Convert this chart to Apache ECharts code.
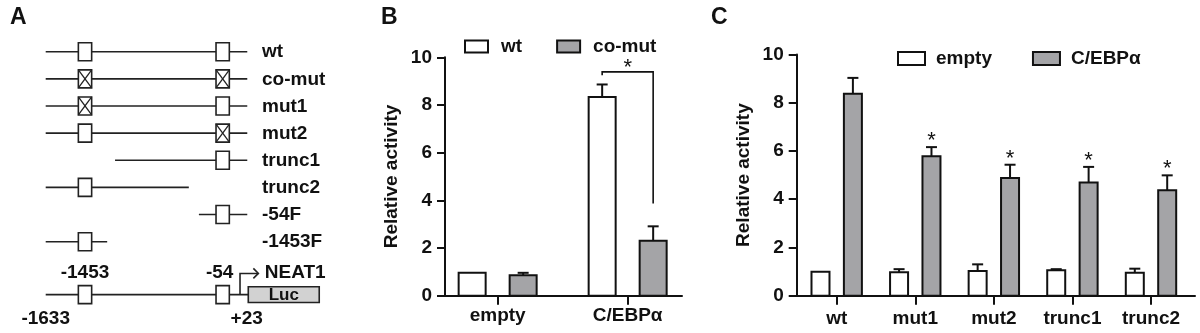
<!DOCTYPE html>
<html>
<head>
<meta charset="utf-8">
<script src="https://cdn.jsdelivr.net/npm/echarts@6/dist/echarts.min.js"></script>
<style>
html,body{margin:0;padding:0;background:#fff;}
#chart{width:1200px;height:333px;}
</style>
</head>
<body>
<div id="chart"></div>
<script>
// ---------- Panel A data (schematic units) ----------
const constructs = ['wt', 'co-mut', 'mut1', 'mut2', 'trunc1', 'trunc2', '-54F', '-1453F'];
const fragStart = [0, 0, 0, 0, 3.44, 0, 7.6, 0];
const fragEnd = [10, 10, 10, 10, 10, 7.1, 10, 3.05];
// 0 = absent, 1 = intact, 2 = mutated
const siteUpstream = [1, 2, 2, 1, 0, 1, 0, 1];
const siteProximal = [1, 2, 1, 2, 1, 0, 1, 0];
const sitePositions = [1.95, 8.78];
const siteNames = ['-1453', '-54'];
const reporterEnds = ['-1633', '+23'];
const reporterGene = 'NEAT1';
const reporterBox = 'Luc';

// ---------- Panel B data ----------
const catsB = ['empty', 'C/EBPα'];
const wtB = [0.96, 8.33];
const wtErrB = [0, 0.53];
const comutB = [0.86, 2.30];
const comutErrB = [0.10, 0.61];
const sigB = [{ cat: 1, top: 9.39, leftEnd: 9.25, rightEnd: 3.87 }];

// ---------- Panel C data ----------
const catsC = ['wt', 'mut1', 'mut2', 'trunc1', 'trunc2'];
const emptyC = [0.99, 0.97, 1.02, 1.05, 0.95];
const emptyErrC = [0, 0.13, 0.28, 0.05, 0.17];
const cebpC = [8.37, 5.78, 4.88, 4.69, 4.37];
const cebpErrC = [0.66, 0.38, 0.55, 0.65, 0.62];
const sigC = [0, 1, 1, 1, 1];

const yTicks = [0, 2, 4, 6, 8, 10];

// ---------- styling ----------
const FONT = '"Liberation Sans", Arial, Helvetica, sans-serif';
const INK = '#111';
const GRAY = '#a4a4a7';
const FS = 19;

const chart = echarts.init(document.getElementById('chart'), null, { renderer: 'canvas' });

function boxShape(c, status) {
  const w = 13.3, h = 18;
  const kids = [{
    type: 'rect',
    shape: { x: c[0] - w / 2, y: c[1] - h / 2, width: w, height: h },
    style: { fill: '#fff', stroke: '#222', lineWidth: 1.6 }
  }];
  if (status === 2) {
    kids.push({ type: 'line', shape: { x1: c[0] - w / 2, y1: c[1] - h / 2, x2: c[0] + w / 2, y2: c[1] + h / 2 }, style: { stroke: '#222', lineWidth: 1.3 } });
    kids.push({ type: 'line', shape: { x1: c[0] + w / 2, y1: c[1] - h / 2, x2: c[0] - w / 2, y2: c[1] + h / 2 }, style: { stroke: '#222', lineWidth: 1.3 } });
  }
  return kids;
}

const txt = (x, y, text, size, align, weight) => ({
  type: 'text', x: x, y: y,
  style: { text: text, fill: INK, font: (weight || 'bold') + ' ' + size + 'px ' + FONT, align: align || 'center', verticalAlign: 'middle' }
});

const fragData = constructs.map((c, i) => [fragStart[i], fragEnd[i], i]);
const siteData = [];
constructs.forEach((c, i) => {
  if (siteUpstream[i]) siteData.push([sitePositions[0], i, siteUpstream[i]]);
  if (siteProximal[i]) siteData.push([sitePositions[1], i, siteProximal[i]]);
});

const LABEL_X = 10.73;

function barRenderer(offset, width, fill, withStars) {
  return function (params, api) {
    const x = api.value(0), v = api.value(1), e = api.value(2), s = api.value(3);
    const base = api.coord([x, 0]);
    const top = api.coord([x, v]);
    const et = api.coord([x, v + e]);
    const cx = base[0] + offset;
    const kids = [{
      type: 'rect',
      shape: { x: cx - width / 2, y: top[1], width: width, height: base[1] - top[1] },
      style: { fill: fill, stroke: INK, lineWidth: 2 }
    }];
    if (e > 0) {
      kids.push({ type: 'line', shape: { x1: cx, y1: top[1], x2: cx, y2: et[1] }, style: { stroke: INK, lineWidth: 2 } });
      kids.push({ type: 'line', shape: { x1: cx - 5.5, y1: et[1], x2: cx + 5.5, y2: et[1] }, style: { stroke: INK, lineWidth: 2 } });
    }
    if (withStars && s) {
      kids.push({ type: 'text', x: cx, y: et[1] - 6, style: { text: '*', fill: INK, font: '22px ' + FONT, align: 'center', verticalAlign: 'middle' } });
    }
    return { type: 'group', children: kids };
  };
}

const axisLabelStyle = { fontSize: FS, fontWeight: 'bold', color: INK, fontFamily: FONT };

function catXAxis(gridIndex, min, max, cats, margin) {
  const vals = cats.map((c, i) => i);
  return {
    gridIndex: gridIndex, type: 'value', min: min, max: max,
    axisLine: { show: true, onZero: false, lineStyle: { color: INK, width: 2 } },
    axisTick: { show: true, customValues: vals, length: 9, lineStyle: { color: INK, width: 2 } },
    axisLabel: { show: true, customValues: vals, margin: margin, formatter: v => cats[Math.round(v)], ...axisLabelStyle },
    splitLine: { show: false }
  };
}
function activityYAxis(gridIndex, gap) {
  return {
    gridIndex: gridIndex, type: 'value', min: yTicks[0], max: yTicks[yTicks.length - 1], interval: yTicks[1] - yTicks[0],
    axisLine: { show: true, onZero: false, lineStyle: { color: INK, width: 2 } },
    axisTick: { show: true, length: 8, lineStyle: { color: INK, width: 2 } },
    axisLabel: { show: true, margin: 13, ...axisLabelStyle },
    splitLine: { show: false },
    name: 'Relative activity', nameLocation: 'middle', nameRotate: 90, nameGap: gap,
    nameTextStyle: { fontSize: FS, fontWeight: 'bold', color: INK, fontFamily: FONT }
  };
}

const option = {
  animation: false,
  backgroundColor: '#fff',
  title: [
    { text: 'A', left: 5, top: 1, textStyle: { fontSize: 23, fontWeight: 'bold', color: INK, fontFamily: FONT } },
    { text: 'B', left: 376, top: 1, textStyle: { fontSize: 23, fontWeight: 'bold', color: INK, fontFamily: FONT } },
    { text: 'C', left: 706, top: 1, textStyle: { fontSize: 23, fontWeight: 'bold', color: INK, fontFamily: FONT } }
  ],
  legend: [
    {
      left: 459, top: 32, itemWidth: 23, itemHeight: 12, itemGap: 34, icon: 'rect',
      data: [
        { name: 'wt', itemStyle: { color: '#fff', borderColor: INK, borderWidth: 2 } },
        { name: 'co-mut', itemStyle: { color: GRAY, borderColor: INK, borderWidth: 2 } }
      ],
      textStyle: { ...axisLabelStyle, padding: [0, 0, 0, 8] }
    },
    {
      left: 892, top: 44, itemWidth: 27, itemHeight: 13, itemGap: 40, icon: 'rect',
      data: [
        { name: 'empty', itemStyle: { color: '#fff', borderColor: INK, borderWidth: 2 } },
        { name: 'C/EBPα', itemStyle: { color: GRAY, borderColor: INK, borderWidth: 2 } }
      ],
      textStyle: { ...axisLabelStyle, padding: [0, 0, 0, 6] }
    }
  ],
  grid: [
    { left: 45.7, top: 51.7, width: 282.2, height: 271.4, outerBoundsMode: 'none' },
    { left: 445, top: 57.3, width: 237, height: 238.4, outerBoundsMode: 'none' },
    { left: 796.7, top: 54.5, width: 398.3, height: 241.2, outerBoundsMode: 'none' }
  ],
  xAxis: [
    { gridIndex: 0, type: 'value', min: 0, max: 14, show: false },
    catXAxis(1, -0.405, 1.418, catsB, 11),
    catXAxis(2, -0.509, 4.56, catsC, 14)
  ],
  yAxis: [
    { gridIndex: 0, type: 'value', min: 0, max: 10, inverse: true, show: false },
    activityYAxis(1, 44),
    activityYAxis(2, 43)
  ],
  series: [
    // ----- Panel A -----
    {
      type: 'custom', name: 'fragments', xAxisIndex: 0, yAxisIndex: 0, clip: false,
      data: fragData,
      renderItem: (p, api) => {
        const a = api.coord([api.value(0), api.value(2)]);
        const b = api.coord([api.value(1), api.value(2)]);
        return { type: 'line', shape: { x1: a[0], y1: a[1], x2: b[0], y2: b[1] }, style: { stroke: '#222', lineWidth: 1.6 } };
      }
    },
    {
      type: 'custom', name: 'sites', xAxisIndex: 0, yAxisIndex: 0, clip: false,
      data: siteData,
      renderItem: (p, api) => {
        const c = api.coord([api.value(0), api.value(1)]);
        return { type: 'group', children: boxShape(c, api.value(2)) };
      }
    },
    {
      type: 'custom', name: 'constructLabels', xAxisIndex: 0, yAxisIndex: 0, clip: false,
      data: constructs.map((c, i) => [LABEL_X, i]),
      renderItem: (p, api) => {
        const c = api.coord([api.value(0), api.value(1)]);
        return txt(c[0], c[1] + 0.5, constructs[p.dataIndex], FS, 'left');
      }
    },
    {
      type: 'custom', name: 'reporter', xAxisIndex: 0, yAxisIndex: 0, clip: false,
      data: [[0, 8.95]],
      renderItem: (p, api) => {
        const row = api.value(1);
        const labelRow = 8.14, endRow = 9.85, tss = 9.64, lucL = 10.05, lucR = 13.57;
        const s = api.coord([0, row]);
        const e = api.coord([lucL, row]);
        const kids = [
          { type: 'line', shape: { x1: s[0], y1: s[1], x2: e[0], y2: e[1] }, style: { stroke: '#222', lineWidth: 1.6 } }
        ];
        const lt = api.coord([lucL, 8.66]);
        const rb = api.coord([lucR, 9.24]);
        kids.push({ type: 'rect', shape: { x: lt[0], y: lt[1], width: rb[0] - lt[0], height: rb[1] - lt[1] }, style: { fill: '#d2d2d2', stroke: '#222', lineWidth: 1.6 } });
        kids.push(txt((lt[0] + rb[0]) / 2, (lt[1] + rb[1]) / 2 + 1, reporterBox, 17, 'center'));
        const t0 = api.coord([tss, row]);
        const t1 = api.coord([tss, 8.17]);
        const t2 = api.coord([10.55, 8.17]);
        kids.push({ type: 'polyline', shape: { points: [t0, t1, t2] }, style: { stroke: '#222', lineWidth: 1.6, fill: null } });
        kids.push({ type: 'polyline', shape: { points: [[t2[0] - 5, t2[1] - 5], t2, [t2[0] - 5, t2[1] + 5]] }, style: { stroke: '#222', lineWidth: 1.6, fill: null } });
        sitePositions.forEach((x, j) => {
          const c = api.coord([x, row]);
          boxShape(c, 1).forEach(k => kids.push(k));
          const lc = api.coord([x - (j === 1 ? 0.15 : 0), labelRow]);
          kids.push(txt(lc[0], lc[1], siteNames[j], FS, 'center'));
        });
        const g = api.coord([10.87, labelRow]);
        kids.push(txt(g[0], g[1], reporterGene, FS, 'left'));
        const e0 = api.coord([0, endRow]);
        const e1 = api.coord([9.97, endRow]);
        kids.push(txt(e0[0], e0[1], reporterEnds[0], FS, 'center'));
        kids.push(txt(e1[0], e1[1], reporterEnds[1], FS, 'center'));
        return { type: 'group', children: kids };
      }
    },
    // ----- Panel B -----
    {
      type: 'custom', name: 'wt', xAxisIndex: 1, yAxisIndex: 1,
      itemStyle: { color: '#fff', borderColor: INK, borderWidth: 2 },
      data: wtB.map((v, i) => [i, v, wtErrB[i], 0]),
      renderItem: barRenderer(-25.5, 27, '#fff', false)
    },
    {
      type: 'custom', name: 'co-mut', xAxisIndex: 1, yAxisIndex: 1,
      itemStyle: { color: GRAY, borderColor: INK, borderWidth: 2 },
      data: comutB.map((v, i) => [i, v, comutErrB[i], 0]),
      renderItem: barRenderer(25.5, 27, GRAY, false)
    },
    {
      type: 'custom', name: 'sigB', xAxisIndex: 1, yAxisIndex: 1,
      data: sigB.map(d => [d.cat, d.top, d.leftEnd, d.rightEnd]),
      renderItem: (p, api) => {
        const x = api.value(0);
        const top = api.coord([x, api.value(1)]);
        const le = api.coord([x, api.value(2)]);
        const re = api.coord([x, api.value(3)]);
        const xl = top[0] - 25.5, xr = top[0] + 25.5;
        return {
          type: 'group', children: [
            { type: 'polyline', shape: { points: [[xl, le[1]], [xl, top[1]], [xr, top[1]], [xr, re[1]]] }, style: { stroke: INK, lineWidth: 1.6, fill: null } },
            { type: 'text', x: top[0], y: top[1] - 4, style: { text: '*', fill: INK, font: '22px ' + FONT, align: 'center', verticalAlign: 'middle' } }
          ]
        };
      }
    },
    // ----- Panel C -----
    {
      type: 'custom', name: 'empty', xAxisIndex: 2, yAxisIndex: 2,
      itemStyle: { color: '#fff', borderColor: INK, borderWidth: 2 },
      data: emptyC.map((v, i) => [i, v, emptyErrC[i], 0]),
      renderItem: barRenderer(-16.2, 18, '#fff', false)
    },
    {
      type: 'custom', name: 'C/EBPα', xAxisIndex: 2, yAxisIndex: 2,
      itemStyle: { color: GRAY, borderColor: INK, borderWidth: 2 },
      data: cebpC.map((v, i) => [i, v, cebpErrC[i], sigC[i]]),
      renderItem: barRenderer(16.2, 18, GRAY, true)
    }
  ]
};
chart.setOption(option);
</script>
</body>
</html>
